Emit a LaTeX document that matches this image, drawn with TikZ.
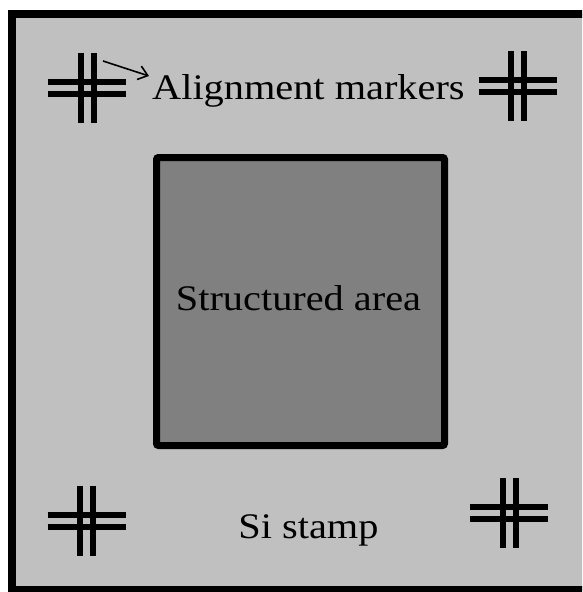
\documentclass[tikz,border=0pt]{standalone}
\usepackage{fontspec}
\setmainfont[FakeStretch=1.12]{Liberation Serif}
\usetikzlibrary{arrows.meta}
\definecolor{stampgray}{HTML}{C0C0C0}
\definecolor{areagray}{HTML}{808080}
\tikzset{
  marker/.pic={
    \draw[line width=6pt] (-39,-6) -- (39,-6) (-39,6) -- (39,6);
    \draw[line width=6pt] (-6.5,-35) -- (-6.5,35) (6.5,-35) -- (6.5,35);
  },
  label/.style={font=\fontsize{36}{40}\selectfont, text=black, inner sep=0pt}
}
\begin{document}
\begin{tikzpicture}[x=1pt,y=-1pt]
\useasboundingbox (0,0) rectangle (582,592);
\clip (0,0) rectangle (582,592);
\fill[white] (0,0) rectangle (582,592);
\draw[line width=8pt, fill=stampgray] (12,14) rectangle (600,590);
\node[draw=black, line width=7pt, fill=areagray, rounded corners=2pt, minimum width=288pt, minimum height=288pt, inner sep=0pt] (area) at (300.5,301.5) {};
\node[label, anchor=base] (areatext) at (298.5,310) {Structured area};
\node[label, anchor=base west] (aligntext) at (152,99) {Alignment markers};
\node[label, anchor=base] (stamptext) at (308.5,538) {Si stamp};
\pic at (87,87.5) {marker};
\pic at (517.5,86) {marker};
\pic at (86.5,521) {marker};
\pic at (509,513) {marker};
\coordinate (arrstart) at (103,61);
\coordinate (arrend) at (149,76);
\draw[line width=1.6pt, -{Straight Barb[length=9pt,width=14pt,line width=1.6pt]}] (arrstart) -- (arrend);
\end{tikzpicture}
\end{document}
